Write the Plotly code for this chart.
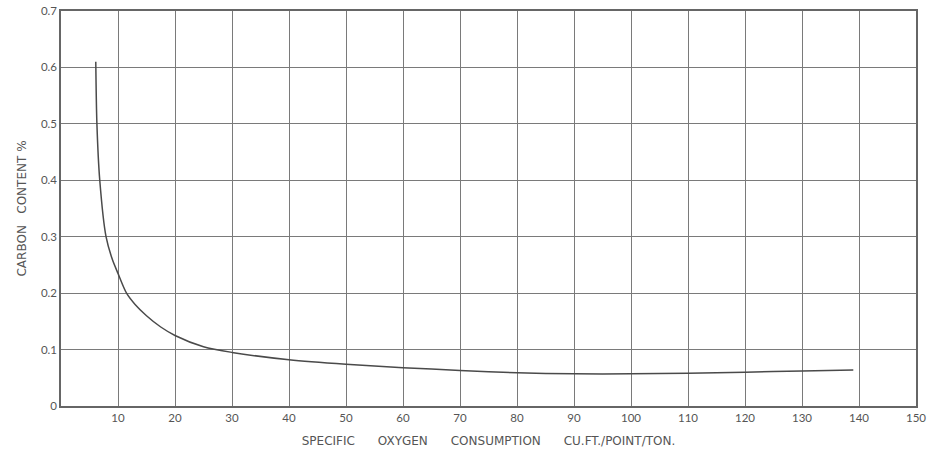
import plotly.graph_objects as go

# Data
oxygen = [6.1, 6.3, 6.8, 7.9, 9.0, 10.0, 11.5, 13.0, 15.0, 17.5, 20.0, 25.0, 30.0,
          40.0, 50.0, 60.0, 70.0, 80.0, 90.0, 100.0, 110.0, 120.0, 130.0, 139.0]
carbon = [0.61, 0.50, 0.40, 0.30, 0.26, 0.235, 0.20, 0.18, 0.16, 0.14, 0.125, 0.105, 0.095,
          0.082, 0.074, 0.068, 0.063, 0.059, 0.057, 0.057, 0.058, 0.060, 0.062, 0.064]

x_ticks = list(range(0, 151, 10))
x_tick_labels = [""] + [str(v) for v in x_ticks[1:]]
y_ticks = [0, 0.1, 0.2, 0.3, 0.4, 0.5, 0.6, 0.7]
y_tick_labels = ["0", "0.1", "0.2", "0.3", "0.4", "0.5", "0.6", "0.7"]

ink = "#555555"
grid = "#7a7a7a"
font = "Lato, 'Open Sans', sans-serif"
title_font = "'DejaVu Sans', sans-serif"

fig = go.Figure()
fig.add_trace(go.Scatter(
    x=oxygen, y=carbon, mode="lines",
    line=dict(color="#4a4a4a", width=1.5, shape="spline", smoothing=0.8),
    showlegend=False, hoverinfo="skip"))

fig.update_layout(
    width=935, height=454,
    margin=dict(l=61, r=19, t=11, b=48, autoexpand=False),
    paper_bgcolor="white", plot_bgcolor="white",
    font=dict(family=font, color=ink, size=11),
    xaxis=dict(
        range=[0, 150], tickvals=x_ticks, ticktext=x_tick_labels,
        showgrid=True, gridcolor=grid, gridwidth=1.2,
        showline=True, linecolor="#666666", linewidth=1.5, mirror=True,
        zeroline=False, ticks="", ticklen=0, automargin=False,
        tickfont=dict(size=11.5, color=ink),
        title=dict(text="SPECIFIC      OXYGEN      CONSUMPTION      CU.FT./POINT/TON.",
                   font=dict(size=12, color=ink, family=title_font), standoff=14),
    ),
    yaxis=dict(
        range=[0, 0.7], tickvals=y_ticks, ticktext=y_tick_labels,
        showgrid=True, gridcolor=grid, gridwidth=1.2,
        showline=True, linecolor="#666666", linewidth=1.5, mirror=True,
        zeroline=False, ticks="", ticklen=0, automargin=False,
        tickfont=dict(size=11.5, color=ink),
        title=dict(text="CARBON   CONTENT %", font=dict(size=12, color=ink, family=title_font),
                   standoff=12),
    ),
)

fig.write_html("out.html", config={"displayModeBar": False},
               post_script="document.body.style.margin='0';")
